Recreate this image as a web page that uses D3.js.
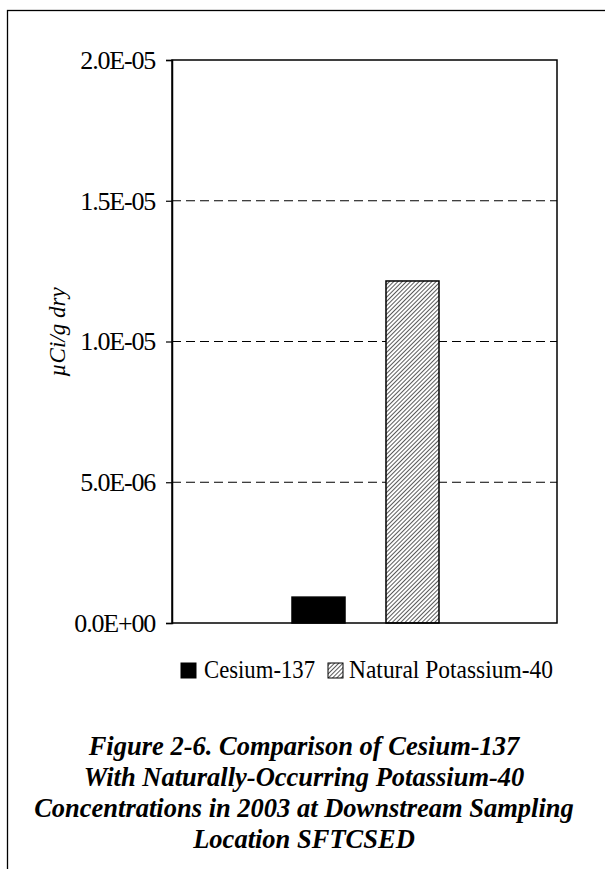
<!DOCTYPE html>
<html><head><meta charset="utf-8">
<script src="https://cdn.jsdelivr.net/npm/d3@7"></script>
<style>body{margin:0;background:#fff}svg{display:block}text{font-family:"Liberation Serif","Times New Roman",serif}</style>
</head><body>
<script>
const series = ["Cesium-137", "Natural Potassium-40"];
const values = [9.2e-7, 1.215e-5];
const yTicks = [0, 5e-6, 1e-5, 1.5e-5, 2e-5];
const yTickLabels = ["0.0E+00", "5.0E-06", "1.0E-05", "1.5E-05", "2.0E-05"];
const yLabel = "\u00B5Ci/g dry";
const titleLines = ["Figure 2-6. Comparison of Cesium-137", "With Naturally-Occurring Potassium-40", "Concentrations in 2003 at Downstream Sampling", "Location SFTCSED"];

const W = 605, H = 869;
const svg = d3.select("body").append("svg").attr("width", W).attr("height", H);
const defs = svg.append("defs");
const pat = defs.append("pattern").attr("id","hatch").attr("patternUnits","userSpaceOnUse")
  .attr("width",3).attr("height",3).attr("patternTransform","rotate(45)");
pat.append("rect").attr("width",3).attr("height",3).attr("fill","#fff");
pat.append("line").attr("x1",0).attr("y1",0).attr("x2",0).attr("y2",3).attr("stroke","#000").attr("stroke-width",1.3);

// outer frame
svg.append("rect").attr("x",7.5).attr("y",10.5).attr("width",700).attr("height",1000)
  .attr("fill","none").attr("stroke","#000").attr("stroke-width",1.3);

const L = 172, R = 557, T = 60, B = 623;
const y = d3.scaleLinear().domain([0, 2e-5]).range([B, T]);
const x = d3.scaleBand().domain(series).range([292, 439]).paddingInner(0.436).paddingOuter(0);

// gridlines
svg.append("g").selectAll("line").data(yTicks.filter(d => d > 0 && d < 2e-5)).join("line")
  .attr("x1", L).attr("x2", R).attr("y1", d => y(d)).attr("y2", d => y(d))
  .attr("stroke","#000").attr("stroke-width",1).attr("stroke-dasharray","9,5");

// bars
svg.append("g").selectAll("rect").data(series).join("rect")
  .attr("x", d => x(d)).attr("width", x.bandwidth())
  .attr("y", (d,i) => y(values[i])).attr("height", (d,i) => B - y(values[i]))
  .attr("fill", (d,i) => i === 0 ? "#000" : "url(#hatch)")
  .attr("stroke","#000").attr("stroke-width",1.5);

// plot border
svg.append("rect").attr("x",L).attr("y",T).attr("width",R-L).attr("height",B-T)
  .attr("fill","none").attr("stroke","#000").attr("stroke-width",1.5);

// y axis
const yAxis = d3.axisLeft(y).tickValues(yTicks).tickSize(6).tickPadding(11)
  .tickFormat((d,i) => yTickLabels[i]);
const gy = svg.append("g").attr("transform",`translate(${L},0)`).call(yAxis);
gy.select(".domain").attr("stroke","#000").attr("stroke-width",1.5);
gy.selectAll(".tick line").attr("stroke","#000").attr("stroke-width",1.2);
gy.selectAll(".tick text").attr("font-size",26).attr("fill","#000")
  .attr("font-family","Liberation Serif").attr("letter-spacing",-1.2);

// y label
svg.append("text").attr("transform","translate(65,332) rotate(-90)")
  .attr("text-anchor","middle").attr("font-size",23).attr("font-style","italic").text(yLabel);

// legend
const leg = svg.append("g");
const legX = [181, 328];
const legTX = [204, 349];
const legTL = [111, 204];
series.forEach((s,i) => {
  leg.append("rect").attr("x",legX[i]).attr("y",663).attr("width",15).attr("height",15)
    .attr("fill", i===0 ? "#000" : "url(#hatch)").attr("stroke","#000").attr("stroke-width",1);
  leg.append("text").attr("x",legTX[i]).attr("y",678).attr("font-size",26)
    .attr("textLength",legTL[i]).attr("lengthAdjust","spacingAndGlyphs").text(s);
});

// title
svg.append("g").selectAll("text").data(titleLines).join("text")
  .attr("x",304).attr("y",(d,i) => 755 + i*31).attr("text-anchor","middle")
  .attr("font-size",26.5).attr("font-weight","bold").attr("font-style","italic").text(d => d);
</script>
</body></html>
